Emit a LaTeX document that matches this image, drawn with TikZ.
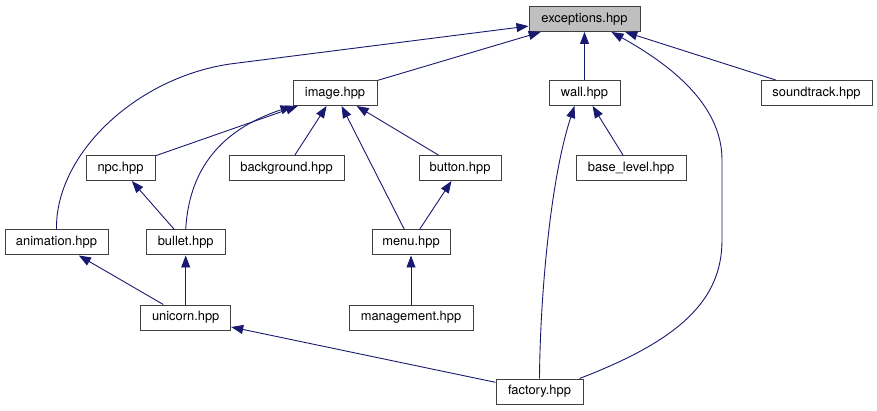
\documentclass[tikz,border=0pt]{standalone}
\usepackage{fontspec}
\newfontfamily\dxfont{TeX Gyre Heros}
\usepackage{xcolor}
\usepackage{tikz}
\usetikzlibrary{arrows.meta,positioning,calc}
\definecolor{incblue}{HTML}{191970}
\definecolor{bk75}{HTML}{404040}
\definecolor{hdrgray}{HTML}{BFBFBF}
\tikzset{
  hdrbox/.style={
    rectangle, draw=bk75, fill=#1, line width=1pt,
    minimum height=25pt, inner sep=0pt,
    font=\dxfont\fontsize{12.9}{15}\selectfont, align=center
  },
  hdrbox/.default=white,
  incarrow/.style={
    -{Triangle[length=12pt, width=9pt]}, line width=0.9pt, color=#1
  },
  incarrow/.default=incblue,
}

\begin{document}
\begin{tikzpicture}[x=1pt, y=-1pt]
  \useasboundingbox (0,0) rectangle (877,411);

  % Top
  \node[hdrbox=hdrgray, minimum width=111pt] (exceptions) at (584.5,19) {exceptions.hpp};

  % Second row
  \node[hdrbox, minimum width=84pt]  (image)      at (335,93)   {image.hpp};
  \node[hdrbox, minimum width=71pt]  (wall)       at (584.5,93) {wall.hpp};
  \node[hdrbox, minimum width=111pt] (soundtrack) at (816.5,93) {soundtrack.hpp};

  % Third row
  \node[hdrbox, minimum width=69pt]  (npc)        at (120.5,168) {npc.hpp};
  \node[hdrbox, minimum width=115pt] (background) at (286.5,168) {background.hpp};
  \node[hdrbox, minimum width=82pt]  (button)     at (460,168)   {button.hpp};
  \node[hdrbox, minimum width=110pt] (baselevel)  at (631,168)   {base\_level.hpp};

  % Fourth row
  \node[hdrbox, minimum width=103pt] (animation) at (56.5,242.5)  {animation.hpp};
  \node[hdrbox, minimum width=79pt]  (bullet)    at (185.7,242.5) {bullet.hpp};
  \node[hdrbox, minimum width=78pt]  (menu)      at (411,242.5)   {menu.hpp};

  % Fifth row
  \node[hdrbox, minimum width=90pt]  (unicorn)    at (185.7,317.5) {unicorn.hpp};
  \node[hdrbox, minimum width=124pt] (management) at (411,317.5)   {management.hpp};

  % Bottom
  \node[hdrbox, minimum width=87pt] (factory) at (539.5,391.5) {factory.hpp};

  % Edges into exceptions
  \draw[incarrow] (image) -- (exceptions);
  \draw[incarrow] (wall) -- (exceptions);
  \draw[incarrow] (soundtrack) -- (exceptions);
  \draw[incarrow] (animation.north) .. controls (55,155) and (135,78) .. (230,64) -- (exceptions);
  \draw[incarrow] ([xshift=-4pt]factory.north east) .. controls (680,340) and (722,300) .. (722,240)
    -- (722,160) .. controls (722,110) and (680,70) .. ([xshift=27pt]exceptions.south);

  % Edges into image
  \draw[incarrow] (npc) -- (image);
  \draw[incarrow] (background) -- (image);
  \draw[incarrow] (button) -- (image);
  \draw[incarrow] (menu) -- (image);
  \draw[incarrow] (bullet.north) .. controls (189,170) and (220,130) .. (image.south west);

  % Edges into wall
  \draw[incarrow] (baselevel) -- (wall);
  \draw[incarrow] (factory.north) .. controls (540,300) and (550,180) .. ([xshift=-10pt]wall.south);

  % Lower edges
  \draw[incarrow] (bullet) -- (npc);
  \draw[incarrow] (menu) -- (button);
  \draw[incarrow] (unicorn) -- (animation);
  \draw[incarrow] (unicorn) -- (bullet);
  \draw[incarrow] (management) -- (menu);
  \draw[incarrow] (factory) -- (unicorn);
\end{tikzpicture}
\end{document}
